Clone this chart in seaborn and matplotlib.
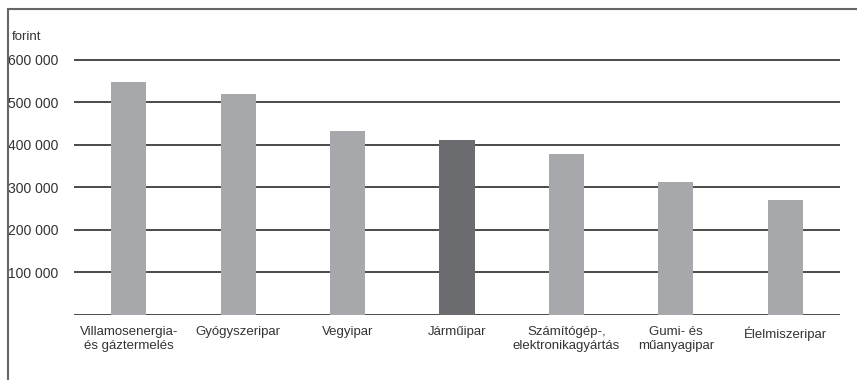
import matplotlib
matplotlib.use('Agg')
import matplotlib.pyplot as plt
from matplotlib.lines import Line2D
import seaborn as sns

categories = ['Villamosenergia-\nés gáztermelés', 'Gyógyszeripar', 'Vegyipar', 'Járműipar',
              'Számítógép-,\nelektronikagyártás', 'Gumi- és\nműanyagipar', 'Élelmiszeripar']
values = [547000, 520000, 433000, 412000, 379000, 313000, 271000]
bar_colors = ['#a7a8ab', '#a7a8ab', '#a7a8ab', '#6b6c70', '#a7a8ab', '#a7a8ab', '#a7a8ab']
y_ticks = [0, 100000, 200000, 300000, 400000, 500000, 600000]
y_labels = ['', '100 000', '200 000', '300 000', '400 000', '500 000', '600 000']

sns.set_style('white')
plt.rcParams['font.family'] = ['Liberation Sans', 'DejaVu Sans']

W, H = 857, 380
fig = plt.figure(figsize=(W / 100, H / 100), dpi=100)
ax = fig.add_axes([74 / W, 1 - 315 / H, (840 - 74) / W, (315 - 59) / H])

sns.barplot(x=categories, y=values, hue=categories, palette=bar_colors,
            legend=False, width=0.32, saturation=1, linewidth=0, ax=ax)

ax.set_xlim(-0.5, 6.5)
ax.set_ylim(0, 602000)
ax.set_yticks(y_ticks)
ax.set_yticklabels(y_labels)
ax.set_axisbelow(True)
ax.yaxis.grid(True, color='#2b2b2b', lw=1.2)
ax.xaxis.grid(False)
for s in ax.spines.values():
    s.set_visible(False)
ax.tick_params(axis='y', length=0, pad=11, labelsize=10, labelcolor='#333333')
ax.tick_params(axis='x', length=0, pad=8, labelsize=9.5, labelcolor='#333333')
for lbl in ax.get_xticklabels():
    lbl.set_linespacing(1.25)
ax.set_xlabel('')
ax.set_ylabel('')

fig.text(12 / W, 1 - 37 / H, 'forint', fontsize=9.5, color='#333333', va='center', ha='left')

# partial frame (top and left)
fig.add_artist(Line2D([8 / W, 1], [1 - 9 / H, 1 - 9 / H], color='#666666', lw=1.5))
fig.add_artist(Line2D([8 / W, 8 / W], [0, 1 - 9 / H], color='#666666', lw=1.5))

fig.savefig('out.png', dpi=100)
